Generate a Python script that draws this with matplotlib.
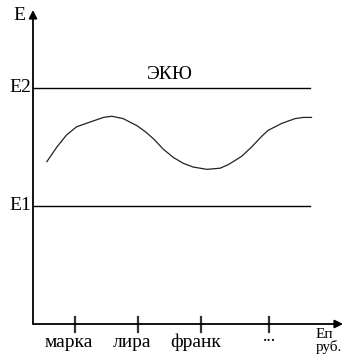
import matplotlib
matplotlib.use("Agg")
import matplotlib.pyplot as plt
from matplotlib.transforms import offset_copy

plt.rcParams['font.family'] = ['Liberation Serif', 'DejaVu Serif']

# exchange-rate curve of the ECU
ecu_x = [0.22, 0.38, 0.53, 0.69, 0.90, 1.12, 1.25, 1.43, 1.65, 1.78, 1.91, 2.07, 2.23,
         2.39, 2.54, 2.76, 2.97, 3.10, 3.31, 3.47, 3.63, 3.73, 3.95, 4.16, 4.29, 4.42]
ecu_y = [1.375, 1.50, 1.60, 1.67, 1.71, 1.75, 1.76, 1.74, 1.68, 1.63, 1.57, 1.48, 1.41,
         1.36, 1.33, 1.31, 1.32, 1.35, 1.42, 1.50, 1.59, 1.64, 1.70, 1.74, 1.75, 1.75]

# band limits
band_levels = [1.0, 2.0]
band_labels = ['E1', 'E2']
band_end = 4.40

# currencies along the x axis
currencies = ['марка', 'лира', 'франк', '...']
currency_x = [0.67, 1.67, 2.67, 3.75]

x_max = 4.92
y_max = 2.66

fig = plt.figure(figsize=(3.6, 3.6), dpi=100)
ax = fig.add_axes([33 / 360, 36 / 360, 310 / 360, 314 / 360])
ax.set_xlim(0, x_max)
ax.set_ylim(0, y_max)
ax.axis('off')

# axes with arrows
arrow = dict(arrowstyle='-|>', lw=1.3, color='black', mutation_scale=12,
             shrinkA=0, shrinkB=0)
ax.annotate('', xy=(0, y_max), xytext=(0, 0), arrowprops=arrow)
ax.annotate('', xy=(x_max, 0), xytext=(0, 0), arrowprops=arrow)

# band lines
for lvl, lab in zip(band_levels, band_labels):
    ax.plot([0, band_end], [lvl, lvl], color='black', lw=1.0, clip_on=False)
    ax.text(-0.03, lvl, lab, ha='right', va='center', fontsize=14)

ax.text(-0.12, 2.61, 'E', ha='right', va='center', fontsize=14)
ax.text(2.17, 2.11, 'ЭКЮ', ha='center', va='center', fontsize=14)

# ECU curve
ax.plot(ecu_x, ecu_y, color='#222222', lw=0.9, solid_joinstyle='round')

# currency ticks and labels
shift = offset_copy(ax.transData, fig=fig, x=-6, y=0, units='dots')
for cx, name in zip(currency_x, currencies):
    ax.plot([cx, cx], [-0.07, 0.06], color='#333333', lw=1.6, clip_on=False)
    if name == '...':
        ax.text(cx, -0.14, name, ha='center', va='baseline', fontsize=13)
    else:
        ax.text(cx, -0.195, name, ha='center', va='baseline', fontsize=14,
                transform=shift)

ax.text(4.48, -0.12, 'Еп', ha='left', va='baseline', fontsize=11)
ax.text(4.48, -0.23, 'руб.', ha='left', va='baseline', fontsize=11)

fig.savefig('out.png', dpi=100, facecolor='white')
